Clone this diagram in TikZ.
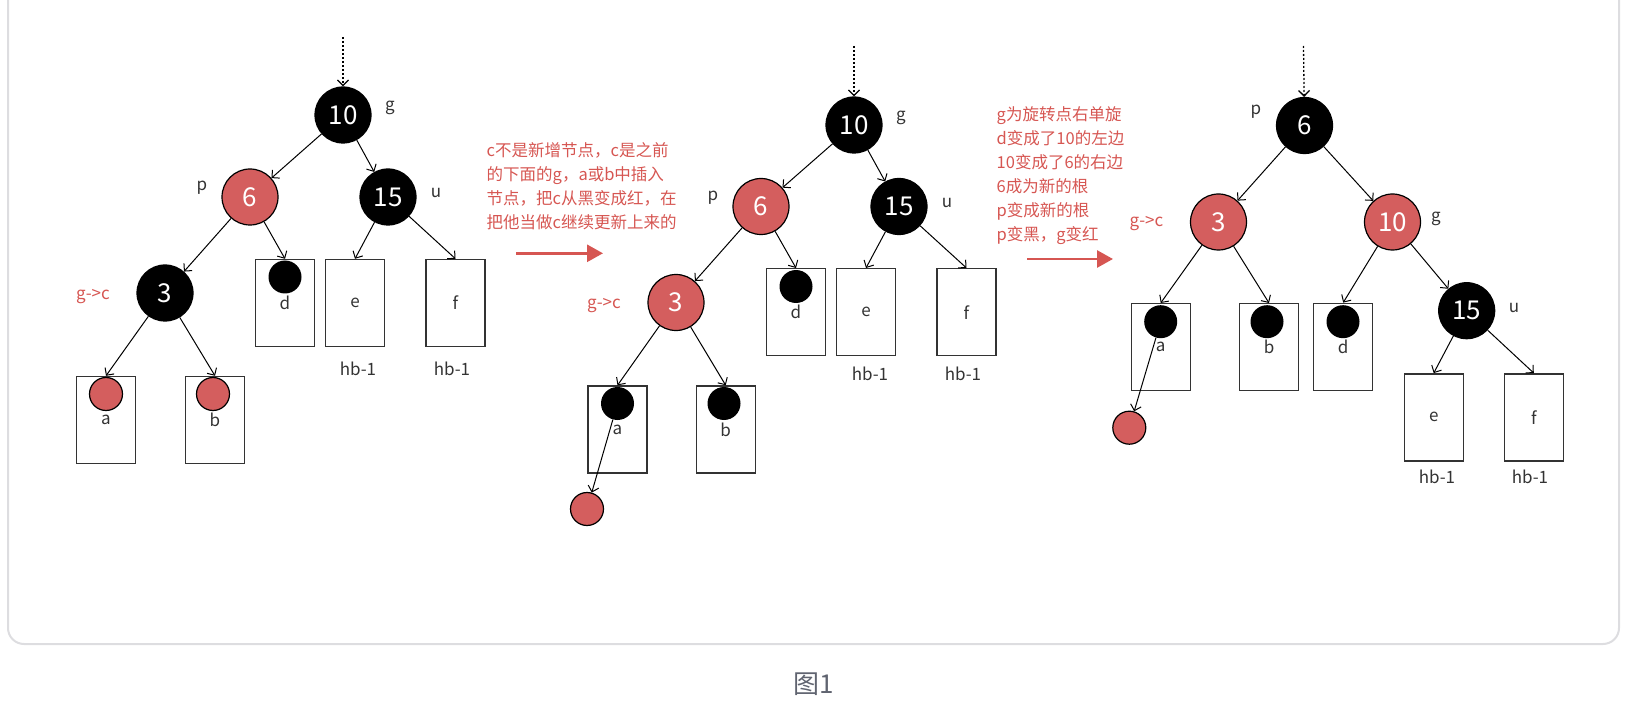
\documentclass[tikz,border=0pt]{standalone}
\usepackage{fontspec}
\setmainfont{Noto Sans CJK SC}
\usetikzlibrary{arrows.meta}
\definecolor{rossoNodo}{RGB}{212,94,94}
\definecolor{rossoTesto}{RGB}{214,86,82}
\definecolor{grigioTesto}{RGB}{51,51,51}
\definecolor{grigioCornice}{RGB}{221,221,224}
\definecolor{grigioDida}{RGB}{96,100,112}

\begin{document}
\begin{tikzpicture}[x=1pt, y=-1pt,
    >={Straight Barb[length=5.5pt,width=11pt]},
    nero/.style={circle, fill=black, draw=black, line width=1.2pt, minimum size=56pt, inner sep=0pt, text=white, font=\fontsize{26}{26}\selectfont},
    rosso/.style={nero, fill=rossoNodo},
    foglia/.style={draw=grigioTesto, line width=1.4pt, minimum width=59pt, minimum height=87pt, inner sep=0pt, text=grigioTesto, font=\fontsize{17}{17}\selectfont},
    pallino/.style={circle, fill=black, minimum size=33pt, inner sep=0pt},
    pallinorosso/.style={pallino, fill=rossoNodo, draw=black, line width=1.2pt},
    etich/.style={text=grigioTesto, font=\fontsize{17}{17}\selectfont},
    etichrossa/.style={etich, text=rossoTesto},
    nota/.style={text=rossoTesto, font=\fontsize{16.5}{24}\selectfont, align=left, anchor=west, inner sep=0pt},
    freccia/.style={-{Triangle[length=16pt,width=17pt]}, rossoTesto, line width=2.8pt},
    ramo/.style={->, line width=1pt},
    punteggiato/.style={ramo, line width=1.3pt, dash pattern=on 2pt off 2pt}
]
    \useasboundingbox (0,0) rectangle (1626,714);

    % Cornice
    \draw[grigioCornice, line width=2pt, rounded corners=16pt] (8,-40) rectangle (1619,644);

    % Albero a sinistra
    \coordinate (Linizio) at (343,37);
    \node[nero] (L10) at (343,115) {10};
    \node[rosso] (L6) at (250,197) {6};
    \node[nero] (L15) at (388,197) {15};
    \node[nero] (L3) at (165,293) {3};
    \node[foglia] (La) at (106,420) {a};
    \node[foglia] (Lb) at (215,420) {b};
    \node[foglia] (Ld) at (285,303) {d};
    \node[foglia] (Le) at (355,303) {e};
    \node[foglia] (Lf) at (455.5,303) {f};
    \node[pallinorosso] (Lpa) at (106,394) {};
    \node[pallinorosso] (Lpb) at (213,394) {};
    \node[pallino] (Lpd) at (285,277) {};

    \node[etich] (Lg) at (390,108) {g};
    \node[etich] (Lp) at (202,188) {p};
    \node[etich] (Lu) at (436,193) {u};
    \node[etichrossa] (Lgc) at (93,297) {g->c};
    \node[etich] (Lhe) at (358,369) {hb-1};
    \node[etich] (Lhf) at (452,369) {hb-1};

    \draw[punteggiato] (Linizio) -- (L10);
    \draw[ramo] (L10) -- (L6);
    \draw[ramo] (L10) -- (L15);
    \draw[ramo] (L6) -- (L3);
    \draw[ramo] (L6) -- (Ld.north);
    \draw[ramo] (L15) -- (Le.north);
    \draw[ramo] (L15) -- (Lf.north);
    \draw[ramo] (L3) -- (La.north);
    \draw[ramo] (L3) -- (Lb.north);

    % Prima nota
    \node[nota] (T1) at (486.5,186) {c不是新增节点，c是之前\\的下面的g，a或b中插入\\节点，把c从黑变成红，在\\把他当做c继续更新上来的};
    \coordinate (A1s) at (516,253.3);
    \coordinate (A1e) at (603,253.3);
    \draw[freccia] (A1s) -- (A1e);

    % Albero centrale
    \coordinate (Minizio) at (854,46);
    \node[nero] (M10) at (854,125) {10};
    \node[rosso] (M6) at (761,206.5) {6};
    \node[nero] (M15) at (899,206.5) {15};
    \node[rosso] (M3) at (676,302.5) {3};
    \node[foglia] (Ma) at (617.5,429.5) {a};
    \node[foglia] (Mb) at (725.7,429.5) {b};
    \node[foglia] (Md) at (796,312.2) {d};
    \node[foglia] (Me) at (866,312.2) {e};
    \node[foglia] (Mf) at (966.5,312.2) {f};
    \node[pallino] (Mpa) at (617.5,403.5) {};
    \node[pallino] (Mpb) at (724,403.5) {};
    \node[pallino] (Mpd) at (796,286.5) {};
    \node[pallinorosso] (Mx) at (587,509) {};

    \node[etich] (Mg) at (901,118) {g};
    \node[etich] (Mp) at (713,197.5) {p};
    \node[etich] (Mu) at (947,202.5) {u};
    \node[etichrossa] (Mgc) at (604,306) {g->c};
    \node[etich] (Mhe) at (870,374) {hb-1};
    \node[etich] (Mhf) at (963,374) {hb-1};

    \draw[punteggiato] (Minizio) -- (M10);
    \draw[ramo] (M10) -- (M6);
    \draw[ramo] (M10) -- (M15);
    \draw[ramo] (M6) -- (M3);
    \draw[ramo] (M6) -- (Md.north);
    \draw[ramo] (M15) -- (Me.north);
    \draw[ramo] (M15) -- (Mf.north);
    \draw[ramo] (M3) -- (Ma.north);
    \draw[ramo] (M3) -- (Mb.north);
    \draw[ramo] (Mpa) -- (Mx);

    % Seconda nota
    \node[nota] (T2) at (996.5,176) {g为旋转点右单旋\\d变成了10的左边\\10变成了6的右边\\6成为新的根\\p变成新的根\\p变黑，g变红};
    \coordinate (A2s) at (1027,259);
    \coordinate (A2e) at (1113,259);
    \draw[freccia] (A2s) -- (A2e);

    % Albero a destra
    \coordinate (Rinizio) at (1303.5,46);
    \node[nero] (R6) at (1304.5,125.5) {6};
    \node[rosso] (R3) at (1218.5,222) {3};
    \node[rosso] (R10) at (1392.5,222) {10};
    \node[nero] (R15) at (1466.7,310.7) {15};
    \node[foglia] (Ra) at (1160.7,347.2) {a};
    \node[foglia] (Rb) at (1269,347.2) {b};
    \node[foglia] (Rd) at (1343.2,346.8) {d};
    \node[foglia] (Re) at (1433.7,417.3) {e};
    \node[foglia] (Rf) at (1533.8,417.3) {f};
    \node[pallino] (Rpa) at (1160.7,321.7) {};
    \node[pallino] (Rpb) at (1267,321.7) {};
    \node[pallino] (Rpd) at (1343,321.7) {};
    \node[pallinorosso] (Rx) at (1129.3,427.7) {};

    \node[etich] (Rp) at (1256,112) {p};
    \node[etichrossa] (Rgc) at (1146.5,224) {g->c};
    \node[etich] (Rg) at (1436,219) {g};
    \node[etich] (Ru) at (1514,308) {u};
    \node[etich] (Rhe) at (1437,477) {hb-1};
    \node[etich] (Rhf) at (1530,477) {hb-1};

    \draw[punteggiato] (Rinizio) -- (R6);
    \draw[ramo] (R6) -- (R3);
    \draw[ramo] (R6) -- (R10);
    \draw[ramo] (R3) -- (Ra.north);
    \draw[ramo] (R3) -- (Rb.north);
    \draw[ramo] (R10) -- (Rd.north);
    \draw[ramo] (R10) -- (R15);
    \draw[ramo] (R15) -- (Re.north);
    \draw[ramo] (R15) -- (Rf.north);
    \draw[ramo] (Rpa) -- (Rx);

    % Didascalia
    \node[text=grigioDida, font=\fontsize{26}{26}\selectfont] (dida) at (814,684) {图1};
\end{tikzpicture}
\end{document}
